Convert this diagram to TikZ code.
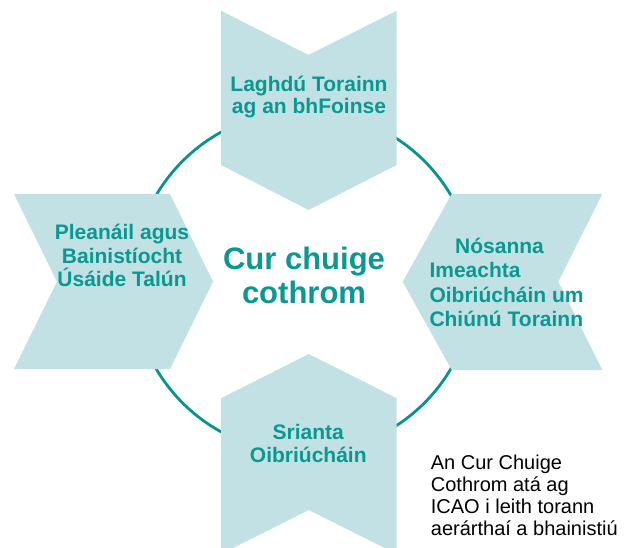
\documentclass[tikz,border=0pt]{standalone}
\usepackage{fontspec}
\setmainfont{Liberation Sans}
\definecolor{chevfill}{RGB}{194,225,228}
\definecolor{tealtext}{RGB}{10,152,145}
\definecolor{tealline}{RGB}{8,148,141}
\newcommand\stackC[2]{\vtop{\baselineskip=#1\lineskiplimit=-100pt\lineskip=0pt\halign{\hfil##\hfil\cr#2\crcr}}}
\newcommand\stackL[2]{\vtop{\baselineskip=#1\lineskiplimit=-100pt\lineskip=0pt\halign{##\hfil\cr#2\crcr}}}
\tikzset{
  chev/.style={fill=chevfill, draw=none},
  chevlabel/.style={inner sep=0pt, text=tealtext, font=\fontsize{21pt}{22pt}\selectfont\bfseries},
  centrelabel/.style={inner sep=0pt, text=tealtext, font=\fontsize{31pt}{34pt}\selectfont\bfseries},
  notelabel/.style={inner sep=0pt, text=black, font=\fontsize{20pt}{22pt}\selectfont},
  ring/.style={draw=tealline, line width=2.8pt}
}
\begin{document}
\begin{tikzpicture}[x=1pt,y=-1pt]
\useasboundingbox (0,0) rectangle (629,548);
\clip (0,0) rectangle (629,548);
\fill[white] (0,0) rectangle (629,548);
% ring
\coordinate (ctr) at (303.5,282);
\draw[ring] (ctr) circle[radius=171pt];
% chevrons
\path[chev] (221,10.7) -- (308.5,55) -- (396.7,10.7) -- (396.7,165) -- (308.5,210) -- (221,165) -- cycle;
\path[chev] (221,398.3) -- (308.7,354) -- (396.7,398.3) -- (396.7,554) -- (308.7,510) -- (221,554) -- cycle;
\path[chev] (14,194) -- (170,194) -- (213,281.7) -- (170,369) -- (14,369) -- (57,281.7) -- cycle;
\path[chev] (602.3,194) -- (451.7,194) -- (402.7,281.7) -- (451.7,370) -- (602.3,370) -- (558.3,281.7) -- cycle;
% labels
\node[chevlabel, anchor=base] (top) at (309,91.7) {\stackC{21.7pt}{Laghdú Torainn\cr ag an bhFoinse}};
\node[chevlabel, anchor=base] (left) at (122,240) {\stackC{23.3pt}{Pleanáil agus\cr Bainistíocht\cr Úsáide Talún}};
\node[chevlabel, anchor=base west] (right) at (429.3,253.3) {\stackL{24.4pt}{\hspace*{25.7pt}Nósanna\cr Imeachta\cr Oibriúcháin um\cr Chiúnú Torainn}};
\node[chevlabel, anchor=base] (bottom) at (308.3,439) {\stackC{23.7pt}{Srianta\cr Oibriúcháin}};
\node[centrelabel, anchor=base] (centre) at (304,269.3) {\stackC{34.7pt}{Cur chuige\cr cothrom}};
\node[notelabel, anchor=base west] (note) at (430.7,469.3) {\stackL{21.9pt}{An Cur Chuige\cr Cothrom atá ag\cr ICAO i leith torann\cr aerárthaí a bhainistiú}};
\end{tikzpicture}
\end{document}
